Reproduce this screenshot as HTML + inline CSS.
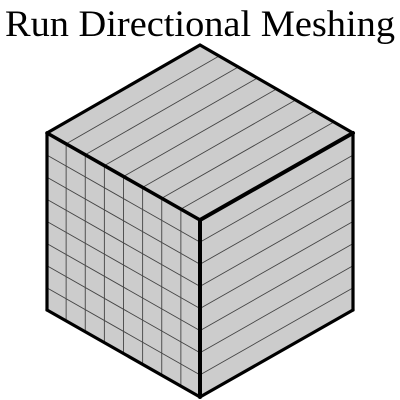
<!DOCTYPE html>
<html><head><meta charset="utf-8"><style>html,body{margin:0;padding:0;background:#fff}svg{display:block}</style></head>
<body>
<svg width="400" height="400" viewBox="0 0 400 400">
<text x="200" y="36" text-anchor="middle" font-family="Liberation Serif, serif" font-size="37" textLength="390" lengthAdjust="spacingAndGlyphs">Run Directional Meshing</text>
<g id="cube"></g>
</svg>
<script>
const divisionsLeftCols = 8;
const divisionsLeftRows = 8;
const divisionsRight = 8;
const divisionsTop = 8;
const T=[200,45], LT=[47,133], C=[200,220], RT=[353,133], LB=[47,310], B=[200,397], RB=[353,310];
const g=document.getElementById('cube');
const NS='http://www.w3.org/2000/svg';
function poly(pts,name){const p=document.createElementNS(NS,'polygon');p.setAttribute('points',pts.map(q=>q.join(',')).join(' '));p.setAttribute('fill','#cccccc');p.setAttribute('stroke','none');


g.appendChild(p);}
function line(a,b,w,name){const l=document.createElementNS(NS,'line');l.setAttribute('x1',a[0]);l.setAttribute('y1',a[1]);l.setAttribute('x2',b[0]);l.setAttribute('y2',b[1]);l.setAttribute('stroke',w>2?'#000':'#444');l.setAttribute('stroke-width',w);l.setAttribute('stroke-linecap','round');


g.appendChild(l);}
const lerp=(a,b,t)=>[a[0]+(b[0]-a[0])*t,a[1]+(b[1]-a[1])*t];
poly([T,RT,C,LT],'top-face');poly([LT,C,B,LB],'left-face');poly([C,RT,RB,B],'right-face');
for(let i=1;i<divisionsLeftCols;i++){const t=i/divisionsLeftCols;line(lerp(LT,C,t),lerp(LB,B,t),0.9,'left-mesh-column');}
for(let i=1;i<divisionsLeftRows;i++){const t=i/divisionsLeftRows;line(lerp(LT,LB,t),lerp(C,B,t),0.9,'left-mesh-row');}
for(let i=1;i<divisionsRight;i++){const t=i/divisionsRight;line(lerp(C,B,t),lerp(RT,RB,t),0.9,'right-mesh-line');}
for(let i=1;i<divisionsTop;i++){const t=i/divisionsTop;line(lerp(LT,C,t),lerp(T,RT,t),0.9,'top-mesh-line');}
const edges=[[T,RT],[RT,RB],[RB,B],[B,LB],[LB,LT],[LT,T]];
edges.forEach(e=>line(e[0],e[1],3.2,'outline-edge'));
line(LT,C,3.5,'inner-edge');line(C,RT,4,'inner-edge');line(C,B,4,'inner-edge');
</script>
</body></html>
